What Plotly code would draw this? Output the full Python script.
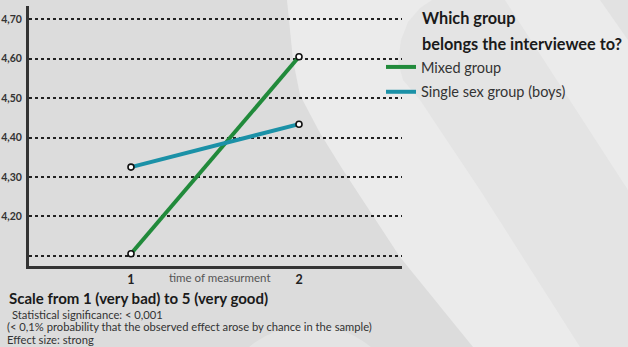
import plotly.graph_objects as go

# ---- data ----
times = [1, 2]
time_labels = ["1", "2"]
mixed_group = [4.105, 4.605]
single_sex_boys = [4.325, 4.434]
y_ticks = [4.1, 4.2, 4.3, 4.4, 4.5, 4.6, 4.7]
y_tick_labels = ["", "4,20", "4,30", "4,40", "4,50", "4,60", "4,70"]

W, H = 628, 347
L, T, R, B = 29, 6, 402, 266
PW, PH = R - L, B - T


def px(x):
    return (x - L) / PW


def py(y):
    return (B - y) / PH


FONT = "Lato"
series = [("Mixed group", mixed_group, "#218a3b"),
          ("Single sex group (boys)", single_sex_boys, "#1b91a7")]

fig = go.Figure()
for name, vals, col in series:
    fig.add_trace(go.Scatter(
        x=times, y=vals, name=name, mode="lines", legendgroup=name,
        line=dict(color=col, width=4),
    ))
for name, vals, col in series:
    fig.add_trace(go.Scatter(
        x=times, y=vals, name=name, mode="markers", showlegend=False,
        legendgroup=name,
        marker=dict(size=6, color="white", line=dict(color="#111", width=1.6)),
    ))


def poly(points, color):
    d = "M " + " L ".join(f"{px(a):.4f},{py(b):.4f}" for a, b in points) + " Z"
    return dict(type="path", xref="paper", yref="paper", path=d,
                fillcolor=color, line=dict(width=0), layer="below")


shapes = [
    # lighter area on the right
    poly([(287, 0), (628, 0), (628, 347), (473, 347), (400, 257), (343, 170),
          (320, 133), (300, 95), (293, 60)], "#ebebeb"),
    # slightly darker diagonal band with rounded top
    poly([(398, 62), (401, 40), (408, 22), (420, 8), (432, 0), (505, 0),
          (628, 190), (628, 347), (580, 347), (480, 190), (420, 100), (403, 80)],
         "#e4e4e4"),
    # darker top right corner
    poly([(600, 0), (628, 0), (628, 40)], "#e2e2e2"),
    # lighter circle at the bottom
    dict(type="circle", xref="paper", yref="paper",
         x0=px(215), x1=px(405), y0=py(515), y1=py(325),
         fillcolor="#e4e4e4", line=dict(width=0), layer="below"),
]

annotations = [
    dict(text="time of measurment", x=px(220), y=py(277), xref="paper", yref="paper",
         showarrow=False, xanchor="center", yanchor="middle",
         font=dict(family=FONT, size=11.5, color="#555")),
    dict(text="<b>Scale from 1 (very bad) to 5 (very good)</b>", x=px(7), y=py(298),
         xref="paper", yref="paper", showarrow=False, xanchor="left", yanchor="middle",
         font=dict(family=FONT, size=15, color="#1a1a1a")),
    dict(text="Statistical significance: < 0,001", x=px(10), y=py(314),
         xref="paper", yref="paper", showarrow=False, xanchor="left", yanchor="middle",
         font=dict(family=FONT, size=11.2, color="#333")),
    dict(text="(< 0,1% probability that the observed effect arose by chance in the sample)",
         x=px(5), y=py(326), xref="paper", yref="paper", showarrow=False,
         xanchor="left", yanchor="middle", font=dict(family=FONT, size=11.2, color="#333")),
    dict(text="Effect size: strong", x=px(5), y=py(339), xref="paper", yref="paper",
         showarrow=False, xanchor="left", yanchor="middle",
         font=dict(family=FONT, size=11.2, color="#333")),
    dict(text="<b>Which group</b>", x=px(420), y=py(18), xref="paper", yref="paper",
         showarrow=False, xanchor="left", yanchor="middle",
         font=dict(family=FONT, size=16.3, color="#1a1a1a")),
    dict(text="<b>belongs the interviewee to?</b>", x=px(420), y=py(43), xref="paper",
         yref="paper", showarrow=False, xanchor="left", yanchor="middle",
         font=dict(family=FONT, size=16.3, color="#1a1a1a")),
]

fig.update_layout(
    width=W, height=H,
    margin=dict(l=L, r=W - R, t=T, b=H - B),
    paper_bgcolor="#dcdcdc", plot_bgcolor="rgba(0,0,0,0)",
    shapes=shapes, annotations=annotations,
    showlegend=True,
    legend=dict(x=px(381), y=py(51), xanchor="left", yanchor="top",
                font=dict(family=FONT, size=14.5, color="#333"),
                bgcolor="rgba(0,0,0,0)", itemwidth=30, tracegroupgap=3),
    xaxis=dict(range=[0.393, 2.613], tickvals=times, ticktext=time_labels,
               showgrid=False, zeroline=False, showline=True, linecolor="#333",
               linewidth=3, ticks="", ticklabelstandoff=0,
               tickfont=dict(family=FONT, size=12.5, color="#222", weight="bold")),
    yaxis=dict(range=[4.074, 4.734], tickvals=y_ticks, ticktext=y_tick_labels,
               showgrid=True, gridcolor="#222", gridwidth=1.5, griddash="dot",
               zeroline=False, showline=True, linecolor="#333", linewidth=3,
               ticks="", automargin=False, ticklabelstandoff=2,
               tickfont=dict(family=FONT, size=10.5, color="#333", weight="bold")),
)

fig.write_html("out.html")
